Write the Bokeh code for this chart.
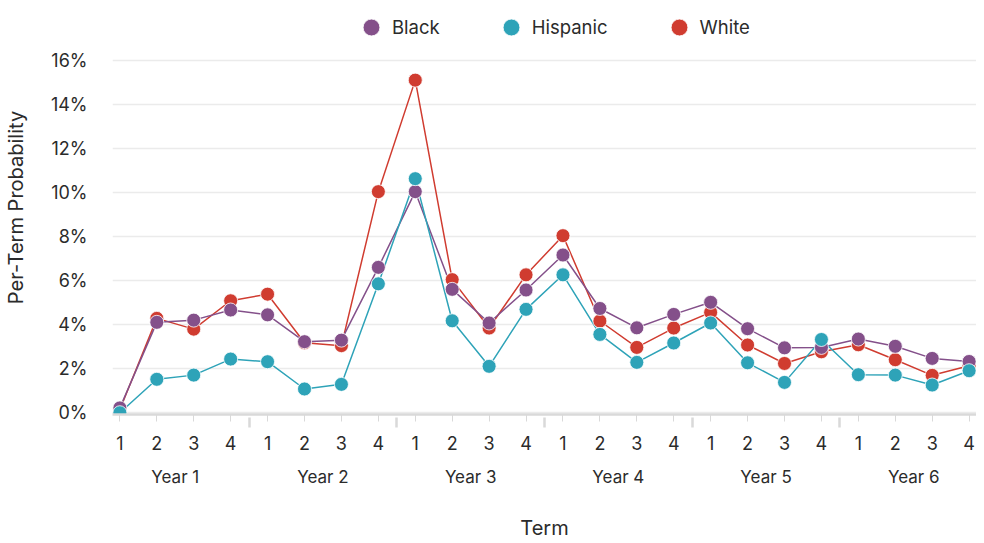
from bokeh.plotting import figure
from bokeh.models import FactorRange, Range1d, Legend, LegendItem, FixedTicker, PrintfTickFormatter, ColumnDataSource
from bokeh.embed import file_html
from bokeh.resources import INLINE

years = ["Year 1", "Year 2", "Year 3", "Year 4", "Year 5", "Year 6"]
terms = ["1", "2", "3", "4"]

black = [0.22, 4.11, 4.21, 4.67, 4.45, 3.23, 3.30, 6.61,
         10.05, 5.61, 4.08, 5.58, 7.17, 4.74, 3.86, 4.47,
         5.02, 3.82, 2.95, 2.97, 3.35, 3.02, 2.47, 2.33]
hispanic = [0.0, 1.52, 1.71, 2.44, 2.32, 1.08, 1.29, 5.86,
            10.64, 4.18, 2.11, 4.70, 6.27, 3.56, 2.29, 3.17,
            4.08, 2.27, 1.38, 3.33, 1.73, 1.71, 1.26, 1.91]
white = [0.15, 4.29, 3.80, 5.09, 5.39, 3.18, 3.05, 10.05,
         15.12, 6.05, 3.85, 6.27, 8.05, 4.17, 2.97, 3.85,
         4.56, 3.08, 2.24, 2.77, 3.09, 2.41, 1.70, 2.14]

y_ticks = [0, 2, 4, 6, 8, 10, 12, 14, 16]

FONT = "Inter"
TXT = "#2b2b2b"

factors = [(y, t) for y in years for t in terms]
x_range = FactorRange(*factors, factor_padding=0, group_padding=0,
                      range_padding=-0.3, range_padding_units="absolute")

# frame spans the full height above the x axis; the space above 16% holds the legend
p = figure(x_range=x_range, y_range=Range1d(-0.08, 18.74), width=976, height=543,
           output_backend="svg", toolbar_location=None,
           min_border_left=107, min_border_right=0, min_border_top=0, min_border_bottom=129)
p.outline_line_color = None
p.background_fill_color = "white"
p.xgrid.grid_line_color = None
p.ygrid.grid_line_color = "#ebebeb"
p.ygrid.grid_line_width = 1.5

# y axis
p.yaxis.ticker = FixedTicker(ticks=y_ticks)
p.yaxis.bounds = (0, 16)
p.yaxis.formatter = PrintfTickFormatter(format="%d%%")
p.yaxis.axis_line_color = None
p.yaxis.major_tick_line_color = None
p.yaxis.minor_tick_line_color = None
p.yaxis.major_label_text_font = FONT
p.yaxis.major_label_text_font_size = "18px"
p.yaxis.major_label_text_color = TXT
p.yaxis.major_label_standoff = 19
p.yaxis.axis_label = "Per-Term Probability"
p.yaxis.axis_label_text_font = FONT
p.yaxis.axis_label_text_font_size = "20px"
p.yaxis.axis_label_text_font_style = "normal"
p.yaxis.axis_label_text_color = TXT
p.yaxis.axis_label_standoff = 20

# x axis
xa = p.xaxis[0]
xa.axis_line_color = "#d9d9d9"
xa.axis_line_width = 2.5
xa.major_tick_line_color = "#d9d9d9"
xa.major_tick_out = 7
xa.major_tick_in = 0
xa.major_label_text_font = FONT
xa.major_label_text_font_size = "18px"
xa.major_label_text_color = TXT
xa.major_label_standoff = 14
xa.group_text_font = FONT
xa.group_text_font_size = "17px"
xa.group_text_font_style = "normal"
xa.group_text_color = TXT
xa.separator_line_color = "#d9d9d9"
xa.separator_line_width = 2.5
xa.separator_line_dash = "0 49 15 400"
xa.axis_label = "Term"
xa.axis_label_text_font = FONT
xa.axis_label_text_font_size = "20px"
xa.axis_label_text_font_style = "normal"
xa.axis_label_text_color = TXT
xa.axis_label_standoff = 26

src = ColumnDataSource(dict(x=factors, black=black, hispanic=hispanic, white=white))

series = [("White", "white", "#d03c30"), ("Black", "black", "#84508a"), ("Hispanic", "hispanic", "#2ea3b8")]
scatters = {}
for name, col, color in series:
    p.line(x="x", y=col, source=src, line_color=color, line_width=1.5)
for name, col, color in series:
    scatters[name] = p.scatter(x="x", y=col, source=src, size=14, fill_color=color,
                               line_color="white", line_width=0.8)

legend = Legend(items=[LegendItem(label=n, renderers=[scatters[n]]) for n in ["Black", "Hispanic", "White"]],
                orientation="horizontal", location=(238, 366),
                glyph_width=42, glyph_height=42, label_standoff=-13, spacing=50,
                padding=0, margin=0, border_line_color=None, background_fill_alpha=0,
                label_text_font=FONT, label_text_font_size="18.5px", label_text_color=TXT)
p.add_layout(legend, "center")

open("out.html", "w").write(file_html(p, INLINE))
